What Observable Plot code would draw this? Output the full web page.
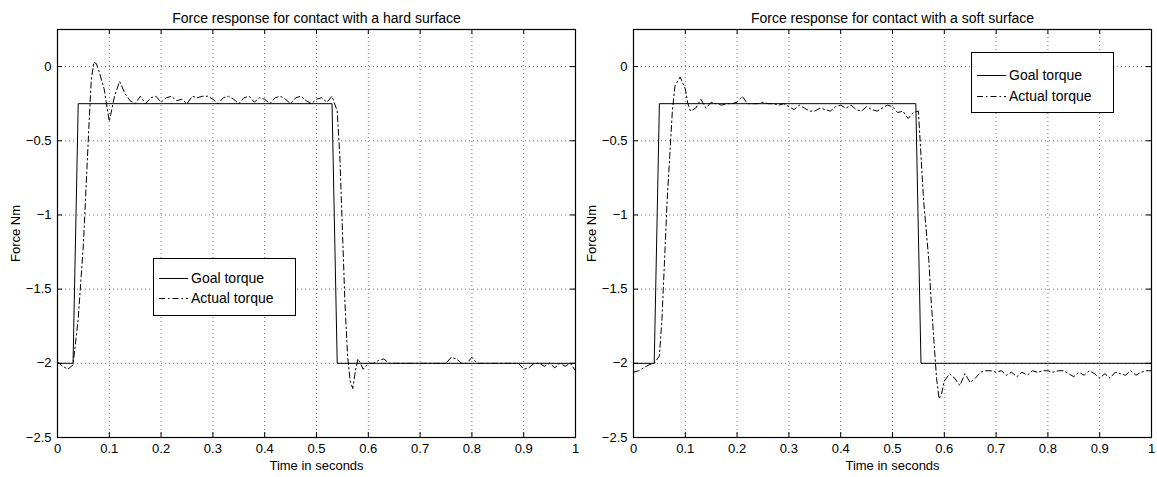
<!DOCTYPE html>
<html>
<head>
<meta charset="utf-8">
<script src="https://cdn.jsdelivr.net/npm/d3@7"></script>
<script src="https://cdn.jsdelivr.net/npm/@observablehq/plot@0.6"></script>
<style>
  html, body { margin: 0; padding: 0; background: #fff; }
  #wrap { position: relative; width: 1157px; height: 477px; overflow: hidden; font-family: "Liberation Sans", Arial, Helvetica, sans-serif; color: #000; }
  .panel { position: absolute; top: 0; }
  .legend { position: absolute; box-sizing: border-box; border: 1px solid #000; background: #fff; font-size: 14px; }
  .row { position: absolute; left: 0; height: 16px; }
  .row svg { position: absolute; left: 4px; top: 0; }
  .row span { position: absolute; left: 37px; top: 0; line-height: 16px; white-space: nowrap; }
</style>
</head>
<body>
<div id="wrap"></div>
<script>
// ---- Data ----
const xTicks = [0, 0.1, 0.2, 0.3, 0.4, 0.5, 0.6, 0.7, 0.8, 0.9, 1];
const yTicks = [-2.5, -2, -1.5, -1, -0.5, 0];

const titles = ["Force response for contact with a hard surface", "Force response for contact with a soft surface"];
const seriesNames = ["Goal torque", "Actual torque"];

// Hard surface
const hardGoalTime = [0, 0.03, 0.04, 0.53, 0.54, 1];
const hardGoal     = [-2, -2, -0.25, -0.25, -2, -2];
const hardTime = [0, 0.01, 0.02, 0.03, 0.04, 0.05, 0.06, 0.065, 0.07, 0.075, 0.08, 0.09, 0.1, 0.11, 0.12, 0.13, 0.14, 0.15, 0.16, 0.17, 0.18, 0.19, 0.2,
  0.21, 0.22, 0.23, 0.24, 0.25, 0.26, 0.27, 0.28, 0.29, 0.3, 0.31, 0.32, 0.33, 0.34, 0.35, 0.36, 0.37, 0.38, 0.39, 0.4,
  0.41, 0.42, 0.43, 0.44, 0.45, 0.46, 0.47, 0.48, 0.49, 0.5, 0.51, 0.52, 0.53, 0.54, 0.545, 0.55, 0.555, 0.56, 0.565, 0.57, 0.575, 0.58, 0.585, 0.59, 0.595, 0.6,
  0.61, 0.62, 0.63, 0.64, 0.65, 0.66, 0.67, 0.68, 0.69, 0.7, 0.71, 0.72, 0.73, 0.74, 0.75, 0.76, 0.77, 0.78, 0.79, 0.8,
  0.81, 0.82, 0.83, 0.84, 0.85, 0.86, 0.87, 0.88, 0.89, 0.9, 0.91, 0.92, 0.93, 0.94, 0.95, 0.96, 0.97, 0.98, 0.99, 1];
const hardActual = [-1.99, -2.02, -2.04, -2.01, -1.7, -1.2, -0.45, -0.1, 0.03, 0.02, -0.03, -0.15, -0.37, -0.2, -0.1, -0.18, -0.23, -0.25, -0.2, -0.25, -0.21, -0.2, -0.24,
  -0.21, -0.2, -0.23, -0.22, -0.25, -0.2, -0.21, -0.2, -0.2, -0.22, -0.25, -0.21, -0.2, -0.22, -0.25, -0.21, -0.2, -0.24, -0.21, -0.22,
  -0.25, -0.21, -0.2, -0.22, -0.25, -0.21, -0.2, -0.23, -0.25, -0.22, -0.21, -0.24, -0.2, -0.3, -0.6, -1.1, -1.6, -1.95, -2.12, -2.17, -2.05, -1.97, -2.0, -2.04, -2.02, -2.0,
  -2.0, -1.98, -1.97, -2.0, -2.0, -2.0, -2.0, -2.0, -2.0, -2.0, -2.0, -2.0, -2.0, -2.0, -2.0, -1.96, -1.97, -2.0, -2.0, -1.96,
  -2.0, -2.0, -2.0, -2.0, -2.0, -2.0, -2.0, -2.0, -2.0, -2.04, -2.03, -2.0, -2.0, -2.02, -2.0, -2.03, -2.0, -2.02, -2.0, -2.05];

// Soft surface
const softGoalTime = [0, 0.04, 0.05, 0.545, 0.555, 1];
const softGoal     = [-2, -2, -0.25, -0.25, -2, -2];
const softTime = [0, 0.01, 0.02, 0.03, 0.04, 0.05, 0.055, 0.06, 0.065, 0.07, 0.075, 0.08, 0.09, 0.1, 0.105, 0.11, 0.12, 0.13, 0.14, 0.15, 0.16, 0.17, 0.18, 0.19, 0.2,
  0.21, 0.22, 0.23, 0.24, 0.25, 0.26, 0.27, 0.28, 0.29, 0.3, 0.31, 0.32, 0.33, 0.34, 0.35, 0.36, 0.37, 0.38, 0.39, 0.4,
  0.41, 0.42, 0.43, 0.44, 0.45, 0.46, 0.47, 0.48, 0.49, 0.5, 0.51, 0.52, 0.53, 0.54, 0.55, 0.555, 0.56, 0.57, 0.575, 0.58, 0.585, 0.59, 0.595, 0.6,
  0.61, 0.62, 0.63, 0.64, 0.65, 0.66, 0.67, 0.68, 0.69, 0.7, 0.71, 0.72, 0.73, 0.74, 0.75, 0.76, 0.77, 0.78, 0.79, 0.8,
  0.81, 0.82, 0.83, 0.84, 0.85, 0.86, 0.87, 0.88, 0.89, 0.9, 0.91, 0.92, 0.93, 0.94, 0.95, 0.96, 0.97, 0.98, 0.99, 1];
const softActual = [-2.06, -2.05, -2.03, -2.01, -2.0, -1.95, -1.7, -1.3, -0.9, -0.6, -0.3, -0.13, -0.07, -0.15, -0.25, -0.3, -0.28, -0.22, -0.28, -0.24, -0.25, -0.26, -0.25, -0.25, -0.24,
  -0.2, -0.25, -0.25, -0.25, -0.24, -0.25, -0.25, -0.26, -0.25, -0.27, -0.29, -0.26, -0.28, -0.3, -0.3, -0.28, -0.29, -0.3, -0.27, -0.26,
  -0.28, -0.26, -0.29, -0.3, -0.27, -0.29, -0.3, -0.28, -0.26, -0.27, -0.31, -0.3, -0.35, -0.31, -0.3, -0.6, -0.9, -1.3, -1.6, -1.85, -2.1, -2.24, -2.2, -2.12,
  -2.07, -2.1, -2.15, -2.07, -2.13, -2.1, -2.06, -2.05, -2.05, -2.06, -2.05, -2.08, -2.06, -2.09, -2.06, -2.08, -2.05, -2.06, -2.05, -2.05,
  -2.06, -2.05, -2.05, -2.07, -2.09, -2.06, -2.08, -2.05, -2.07, -2.1, -2.07, -2.1, -2.06, -2.07, -2.08, -2.05, -2.08, -2.06, -2.05, -2.05];

// ---- Layout ----
const H = 477, MT = 29, MB = 40;
const FH = H - MT - MB;
const FW = 518;
const DASHDOT = "6,3,1.5,3";
const FONT = "Liberation Sans, Arial, Helvetica, sans-serif";
const fmt = d => String(d).replace("-", "\u2212");

function panel(title, time, actual, goalTime, goal, width, marginLeft, marginRight) {
  const act = time.map((t, i) => ({t, v: actual[i]}));
  const gl = goalTime.map((t, i) => ({t, v: goal[i]}));
  const xInner = xTicks.filter(d => d > 0 && d < 1);
  const yInner = yTicks.filter(d => d > -2.5);
  return Plot.plot({
    width, height: H,
    marginLeft, marginRight, marginTop: MT, marginBottom: MB,
    style: {fontFamily: FONT, fontSize: "13px", color: "#000", background: "transparent", overflow: "visible"},
    x: {domain: [0, 1]},
    y: {domain: [-2.5, 0.25]},
    marks: [
      Plot.ruleX(xInner, {x: d => d, stroke: "#000", strokeOpacity: 0.55, strokeDasharray: "1,3"}),
      Plot.ruleY(yInner, {y: d => d, stroke: "#000", strokeOpacity: 0.55, strokeDasharray: "1,3"}),
      Plot.line(gl, {x: "t", y: "v", stroke: "#000", strokeWidth: 1}),
      Plot.line(act, {x: "t", y: "v", stroke: "#000", strokeWidth: 1, strokeDasharray: DASHDOT}),
      Plot.frame({stroke: "#000", strokeWidth: 1.2}),
      Plot.tickX(xTicks, {x: d => d, insetTop: FH - 5, stroke: "#000"}),
      Plot.tickX(xTicks, {x: d => d, insetBottom: FH - 5, stroke: "#000"}),
      Plot.tickY(yTicks, {y: d => d, insetRight: FW - 5, stroke: "#000"}),
      Plot.tickY(yTicks, {y: d => d, insetLeft: FW - 5, stroke: "#000"}),
      Plot.axisX({ticks: xTicks, tickFormat: fmt, tickSize: 0, tickPadding: 6, fontSize: 13, label: "Time in seconds", labelAnchor: "center", labelArrow: "none", labelOffset: 32}),
      Plot.axisY({ticks: yTicks, tickFormat: fmt, tickSize: 0, tickPadding: 6, fontSize: 13, label: "Force Nm", labelAnchor: "center", labelArrow: "none", labelOffset: 47}),
      Plot.text([title], {text: d => d, frameAnchor: "top", dy: -16, fontSize: 14, fill: "#000"})
    ]
  });
}

function legend(left, top, width, height, rowTops) {
  const div = document.createElement("div");
  div.className = "legend";
  Object.assign(div.style, {left: left + "px", top: top + "px", width: width + "px", height: height + "px"});
  seriesNames.forEach((name, i) => {
    const row = document.createElement("div");
    row.className = "row";
    row.style.top = rowTops[i] + "px";
    row.style.width = width + "px";
    const dash = i === 0 ? "" : ` stroke-dasharray="${DASHDOT}"`;
    row.innerHTML = `<svg width="32" height="16"><line x1="1" y1="8.5" x2="30" y2="8.5" stroke="#000" stroke-width="1"${dash}/></svg><span>${name}</span>`;
    div.appendChild(row);
  });
  return div;
}

const wrap = document.getElementById("wrap");
const left = panel(titles[0], hardTime, hardActual, hardGoalTime, hardGoal, 590, 57, 15);
left.classList.add("panel"); left.style.left = "0px";
const right = panel(titles[1], softTime, softActual, softGoalTime, softGoal, 582, 58, 6);
right.classList.add("panel"); right.style.left = "575px";
wrap.appendChild(left);
wrap.appendChild(right);
wrap.appendChild(legend(153, 258, 143, 58, [11, 31]));
wrap.appendChild(legend(971, 52, 143, 61, [14, 35]));
</script>
</body>
</html>
